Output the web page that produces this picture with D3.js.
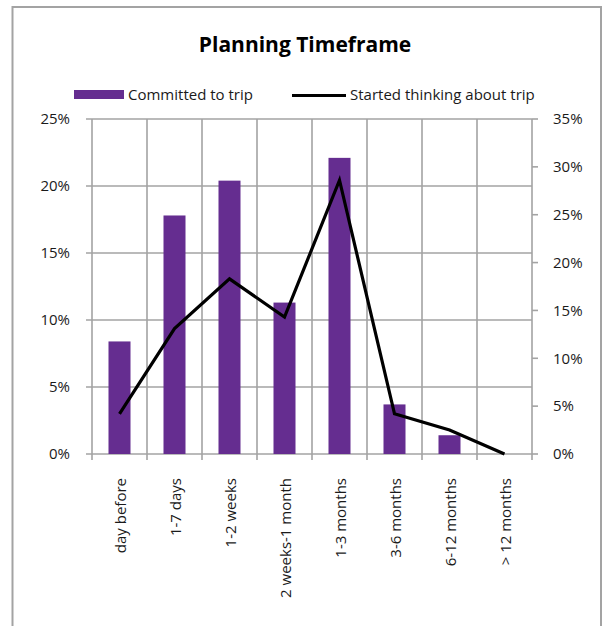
<!DOCTYPE html>
<html>
<head>
<meta charset="utf-8">
<script src="https://cdn.jsdelivr.net/npm/d3@7"></script>
<style>
  html, body { margin: 0; padding: 0; background: #fff; }
  svg { display: block; }
  text { font-family: "Open Sans", Lato, sans-serif; fill: #1a1a1a; }
</style>
</head>
<body>
<script>
// Planning timeframe: share of travellers by how far ahead they planned
const categories = ["day before", "1-7 days", "1-2 weeks", "2 weeks-1 month",
                    "1-3 months", "3-6 months", "6-12 months", "> 12 months"];
const committed = [8.4, 17.8, 20.4, 11.3, 22.1, 3.7, 1.4, 0];   // % (left axis)
const thinking  = [4.2, 13.1, 18.3, 14.3, 28.6, 4.2, 2.5, 0];   // % (right axis)
const leftTicks  = [0, 5, 10, 15, 20, 25];
const rightTicks = [0, 5, 10, 15, 20, 25, 30, 35];
const seriesNames = ["Committed to trip", "Started thinking about trip"];

const W = 604, H = 626;
const plot = { left: 92, right: 532, top: 119, bottom: 454 };
const purple = "#652d90";
const gridColor = "#a3a3a3";
const fs = "15px";

const svg = d3.select("body").append("svg").attr("width", W).attr("height", H);

// chart frame
svg.append("rect")
  .attr("x", 12.5).attr("y", 7).attr("width", 588.5).attr("height", H + 20)
  .attr("fill", "none").attr("stroke", gridColor).attr("stroke-width", 2);

// title
svg.append("text")
  .attr("x", 305).attr("y", 52).attr("text-anchor", "middle")
  .style("font-size", "21px").style("font-weight", "bold").style("fill", "#000")
  .text("Planning Timeframe");

const x = d3.scaleBand().domain(categories).range([plot.left, plot.right]).paddingInner(0).paddingOuter(0);
const yL = d3.scaleLinear().domain([0, 25]).range([plot.bottom, plot.top]);
const yR = d3.scaleLinear().domain([0, 35]).range([plot.bottom, plot.top]);

// horizontal gridlines (left scale)
svg.append("g").selectAll("line").data(leftTicks).join("line")
  .attr("x1", plot.left - 6).attr("x2", plot.right)
  .attr("y1", d => yL(d)).attr("y2", d => yL(d))
  .attr("stroke", gridColor).attr("stroke-width", 1.6);

// vertical gridlines at category boundaries, extended below as ticks
const bounds = categories.map(c => x(c)).concat([plot.right]);
svg.append("g").selectAll("line").data(bounds).join("line")
  .attr("x1", d => d).attr("x2", d => d)
  .attr("y1", plot.top).attr("y2", plot.bottom + 6)
  .attr("stroke", gridColor).attr("stroke-width", 1.6);

// right axis ticks
svg.append("g").selectAll("line").data(rightTicks).join("line")
  .attr("x1", plot.right).attr("x2", plot.right + 6)
  .attr("y1", d => yR(d)).attr("y2", d => yR(d))
  .attr("stroke", gridColor).attr("stroke-width", 1.6);

// left tick labels
svg.append("g").selectAll("text").data(leftTicks).join("text")
  .attr("x", 70).attr("y", d => yL(d)).attr("dy", "0.35em")
  .attr("text-anchor", "end").style("font-size", fs)
  .text(d => d + "%");

// right tick labels
svg.append("g").selectAll("text").data(rightTicks).join("text")
  .attr("x", 553).attr("y", d => yR(d)).attr("dy", "0.35em")
  .attr("text-anchor", "start").style("font-size", fs)
  .text(d => d + "%");

// category labels, rotated
svg.append("g").selectAll("text").data(categories).join("text")
  .attr("transform", d => `translate(${x(d) + x.bandwidth() / 2 + 1},478) rotate(-90)`)
  .attr("dy", "0.35em").attr("text-anchor", "end").style("font-size", fs)
  .text(d => d);

// bars
const barW = x.bandwidth() * 0.4;
svg.append("g").selectAll("rect").data(committed).join("rect")
  .attr("x", (d, i) => x(categories[i]) + (x.bandwidth() - barW) / 2)
  .attr("width", barW)
  .attr("y", d => yL(d))
  .attr("height", d => yL(0) - yL(d))
  .attr("fill", purple);

// line (right scale)
const line = d3.line()
  .x((d, i) => x(categories[i]) + x.bandwidth() / 2)
  .y(d => yR(d));
svg.append("path").datum(thinking)
  .attr("d", line).attr("fill", "none")
  .attr("stroke", "#000").attr("stroke-width", 3.2).attr("stroke-linejoin", "miter");

// legend
const lg = svg.append("g");
lg.append("rect").attr("x", 74).attr("y", 90).attr("width", 50).attr("height", 9).attr("fill", purple);
lg.append("text").attr("x", 128).attr("y", 95).attr("dy", "0.35em").style("font-size", fs).text(seriesNames[0]);
lg.append("line").attr("x1", 292).attr("x2", 346).attr("y1", 95.5).attr("y2", 95.5)
  .attr("stroke", "#000").attr("stroke-width", 3);
lg.append("text").attr("x", 350).attr("y", 95).attr("dy", "0.35em").style("font-size", fs).text(seriesNames[1]);
</script>
</body>
</html>
